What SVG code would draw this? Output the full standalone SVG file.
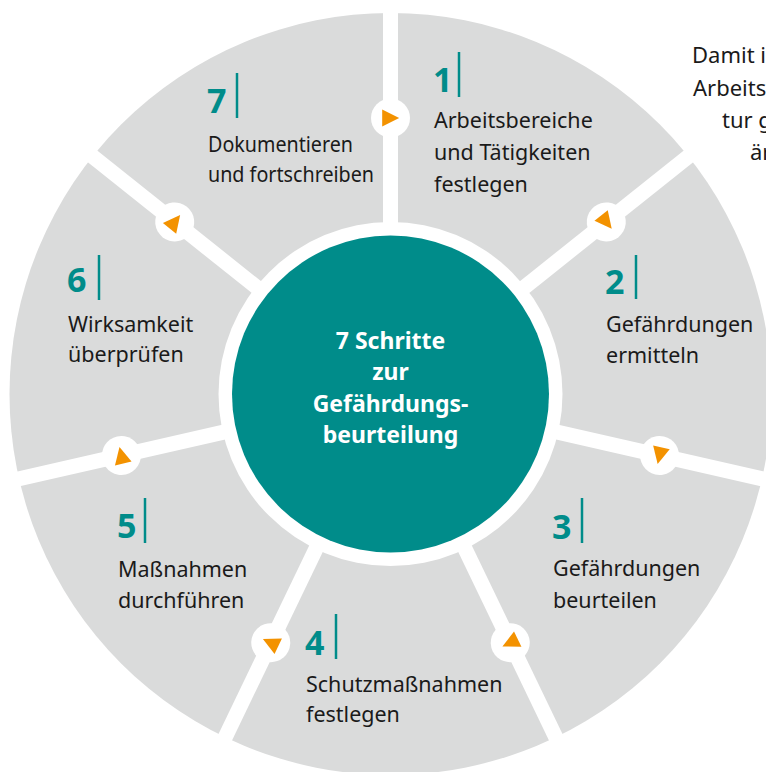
<svg xmlns="http://www.w3.org/2000/svg" width="766" height="772" viewBox="0 0 766 772">
  <style>
    .seg { fill: #dadbdb; }
    .gap { stroke: #ffffff; stroke-width: 15; stroke-linecap: butt; }
    .knob { fill: #ffffff; }
    .tri { fill: #f39200; }
    .num { font-family: "Noto Sans", "Liberation Sans", sans-serif; font-weight: 700; font-size: 34px; fill: #008c8a; }
    .bar { stroke: #008c8a; stroke-width: 2.5; }
    .lbl { font-family: "Noto Sans", "Liberation Sans", sans-serif; font-size: 21.5px; fill: #1a1a1a; }
    .title { font-family: "Noto Sans", "Liberation Sans", sans-serif; font-weight: 700; font-size: 23px; fill: #ffffff; text-anchor: middle; }
    .side { font-family: "Noto Sans", "Liberation Sans", sans-serif; font-size: 22px; fill: #1a1a1a; }
  </style>
  <defs>
    <!-- arrowhead pointing along +x, centred on its marker -->
    <path id="arrow" class="tri" d="M -8.3 -8.5 L 8.7 0 L -8.3 8.5 Z"/>
  </defs>

  <rect width="766" height="772" fill="#ffffff"/>

  <!-- running text of the neighbouring column, cut by the page edge -->
  <g id="side-text" class="side">
    <text x="692" y="63">Damit i</text>
    <text x="693" y="96">Arbeits</text>
    <text x="722" y="128">tur g</text>
    <text x="750" y="160">är</text>
  </g>

  <!-- outer ring -->
  <circle class="seg" cx="390.5" cy="394" r="381"/>

  <!-- spokes between the steps and the clockwise direction markers -->
  <g id="connectors">
    <g transform="translate(390.5 394)">
      <line class="gap" x1="0" y1="0" x2="400" y2="0" transform="rotate(-90)"/>
      <line class="gap" x1="0" y1="0" x2="400" y2="0" transform="rotate(-38.571)"/>
      <line class="gap" x1="0" y1="0" x2="400" y2="0" transform="rotate(12.857)"/>
      <line class="gap" x1="0" y1="0" x2="400" y2="0" transform="rotate(64.286)"/>
      <line class="gap" x1="0" y1="0" x2="400" y2="0" transform="rotate(115.714)"/>
      <line class="gap" x1="0" y1="0" x2="400" y2="0" transform="rotate(167.143)"/>
      <line class="gap" x1="0" y1="0" x2="400" y2="0" transform="rotate(218.571)"/>

      <g transform="rotate(-90) translate(276 0)"><circle class="knob" r="19.5"/><use href="#arrow" transform="rotate(90)"/></g>
      <g transform="rotate(-38.571) translate(276 0)"><circle class="knob" r="19.5"/><use href="#arrow" transform="rotate(90)"/></g>
      <g transform="rotate(12.857) translate(276 0)"><circle class="knob" r="19.5"/><use href="#arrow" transform="rotate(90)"/></g>
      <g transform="rotate(64.286) translate(276 0)"><circle class="knob" r="19.5"/><use href="#arrow" transform="rotate(90)"/></g>
      <g transform="rotate(115.714) translate(276 0)"><circle class="knob" r="19.5"/><use href="#arrow" transform="rotate(90)"/></g>
      <g transform="rotate(167.143) translate(276 0)"><circle class="knob" r="19.5"/><use href="#arrow" transform="rotate(90)"/></g>
      <g transform="rotate(218.571) translate(276 0)"><circle class="knob" r="19.5"/><use href="#arrow" transform="rotate(90)"/></g>
    </g>
  </g>

  <!-- hub -->
  <g id="hub">
    <circle cx="390.5" cy="394" r="172" fill="#ffffff"/>
    <circle cx="390.5" cy="394" r="158.5" fill="#008c8a"/>
    <text class="title" x="390.5" y="349">7 Schritte</text>
    <text class="title" x="390.5" y="380">zur</text>
    <text class="title" x="390.5" y="412">Gefährdungs-</text>
    <text class="title" x="390.5" y="443">beurteilung</text>
  </g>

  <g id="step1">
    <text class="num" x="433" y="92">1</text>
    <line class="bar" x1="459" y1="52" x2="459" y2="97"/>
    <text class="lbl" x="434" y="128">Arbeitsbereiche</text>
    <text class="lbl" x="434" y="160">und Tätigkeiten</text>
    <text class="lbl" x="434" y="192">festlegen</text>
  </g>

  <g id="step2">
    <text class="num" x="605" y="294">2</text>
    <line class="bar" x1="636" y1="255" x2="636" y2="299"/>
    <text class="lbl" x="606" y="332">Gefährdungen</text>
    <text class="lbl" x="606" y="363">ermitteln</text>
  </g>

  <g id="step3">
    <text class="num" x="552" y="539">3</text>
    <line class="bar" x1="582" y1="498" x2="582" y2="543"/>
    <text class="lbl" x="553" y="576">Gefährdungen</text>
    <text class="lbl" x="553" y="608">beurteilen</text>
  </g>

  <g id="step4">
    <text class="num" x="305" y="655">4</text>
    <line class="bar" x1="336" y1="614" x2="336" y2="659"/>
    <text class="lbl" x="306" y="692">Schutzmaßnahmen</text>
    <text class="lbl" x="306" y="722">festlegen</text>
  </g>

  <g id="step5">
    <text class="num" x="117" y="538">5</text>
    <line class="bar" x1="145" y1="498" x2="145" y2="543"/>
    <text class="lbl" x="118" y="577">Maßnahmen</text>
    <text class="lbl" x="118" y="608">durchführen</text>
  </g>

  <g id="step6">
    <text class="num" x="67" y="292">6</text>
    <line class="bar" x1="99" y1="255" x2="99" y2="300"/>
    <text class="lbl" x="68" y="332">Wirksamkeit</text>
    <text class="lbl" x="68" y="362">überprüfen</text>
  </g>

  <g id="step7">
    <text class="num" x="207" y="113">7</text>
    <line class="bar" x1="237" y1="73" x2="237" y2="118"/>
    <text class="lbl" x="208" y="152" textLength="145" lengthAdjust="spacingAndGlyphs">Dokumentieren</text>
    <text class="lbl" x="208" y="182" textLength="166" lengthAdjust="spacingAndGlyphs">und fortschreiben</text>
  </g>
</svg>
